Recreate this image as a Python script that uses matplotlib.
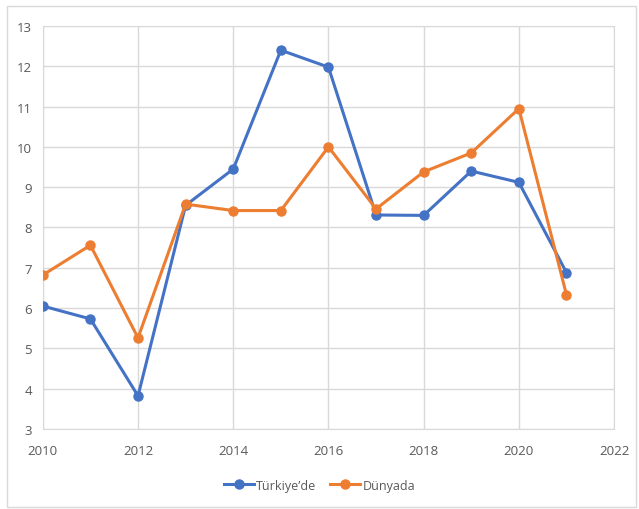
import matplotlib.pyplot as plt
from matplotlib.patches import Rectangle

plt.rcParams['font.family'] = ['Open Sans', 'DejaVu Sans']

years = [2010, 2011, 2012, 2013, 2014, 2015, 2016, 2017, 2018, 2019, 2020, 2021]
turkiye = [6.05, 5.73, 3.82, 8.55, 9.45, 12.40, 11.98, 8.31, 8.30, 9.40, 9.12, 6.88]
dunya = [6.82, 7.56, 5.26, 8.58, 8.42, 8.42, 10.00, 8.46, 9.38, 9.85, 10.95, 6.33]

blue = '#4472C4'
orange = '#ED7D31'
grid_c = '#D9D9D9'
text_c = '#595959'

fig = plt.figure(figsize=(6.39, 5.10), dpi=100)
ax = fig.add_axes([0.067, 0.157, 0.894, 0.790])

ax.plot(years, turkiye, color=blue, lw=2.2, marker='o', ms=6.5, label='Türkiye’de', zorder=3)
ax.plot(years, dunya, color=orange, lw=2.2, marker='o', ms=6.5, label='Dünyada', zorder=3)

ax.set_xlim(2010, 2022)
ax.set_ylim(3, 13)
ax.set_xticks(range(2010, 2023, 2))
ax.set_yticks(range(3, 14))
ax.grid(True, color=grid_c, lw=1)
ax.set_axisbelow(True)
for s in ax.spines.values():
    s.set_color(grid_c)
ax.tick_params(axis='y', length=0, labelsize=9.5, colors=text_c, pad=8)
ax.tick_params(axis='x', length=0, labelsize=9.5, colors=text_c, pad=11)

fig.legend(loc='center', bbox_to_anchor=(0.5, 0.047), ncol=2, frameon=False,
           fontsize=9, labelcolor=text_c, handlelength=2.4, columnspacing=1.1,
           handletextpad=0.2)

fig.patches.append(Rectangle((0.011, 0.004), 0.985, 0.982, transform=fig.transFigure,
                             fill=False, edgecolor=grid_c, lw=1))

fig.savefig('out.png', dpi=100, facecolor='white')
